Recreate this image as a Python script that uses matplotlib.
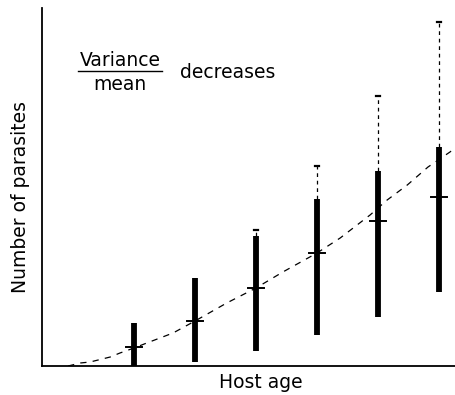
import matplotlib
matplotlib.use("Agg")
import matplotlib.pyplot as plt

# Data (arbitrary units)
ages = [1, 2, 3, 4, 5, 6]
range_low = [0.0, 0.4, 1.5, 3.1, 4.9, 7.4]
range_high = [4.3, 8.8, 13.0, 16.7, 19.5, 21.9]
means = [1.9, 4.5, 7.8, 11.3, 14.5, 16.9]
tail_high = [None, None, 13.6, 20.0, 27.0, 34.4]

curve_x = [-0.08, 0.12, 0.28, 0.61, 0.77, 1.0, 1.21, 1.64, 2.0, 2.52, 3.0,
           3.44, 4.0, 4.38, 4.87, 5.15, 5.48, 5.82, 6.18, 6.26]
curve_y = [0.0, 0.3, 0.4, 0.9, 1.3, 1.8, 2.3, 3.3, 4.5, 6.3, 7.8,
           9.4, 11.3, 12.8, 15.1, 16.6, 18.1, 19.9, 21.4, 21.8]

W, H = 455, 395
fig = plt.figure(figsize=(W / 100, H / 100), dpi=100)
ax = fig.add_axes([42 / W, 1 - 366 / H, (455 - 42) / W, (366 - 8) / H])
ax.set_xlim(1 - 92 / 61, 1 + 321 / 61)
ax.set_ylim(0, 35.8)

for s in ["top", "right"]:
    ax.spines[s].set_visible(False)
for s in ["left", "bottom"]:
    ax.spines[s].set_linewidth(1.3)
    ax.spines[s].set_color("black")
ax.set_xticks([])
ax.set_yticks([])

# dashed curve
ax.plot(curve_x, curve_y, color="black", lw=0.9, dashes=(5, 5), zorder=2)

for a, lo, hi, m, t in zip(ages, range_low, range_high, means, tail_high):
    ax.plot([a, a], [lo, hi], color="black", lw=4.2, solid_capstyle="butt", zorder=3)
    ax.plot([a - 0.13, a + 0.13], [m, m], color="black", lw=1.4, zorder=4)
    if t is not None:
        ax.plot([a, a], [hi, t], color="black", lw=0.9, dashes=(3, 3), zorder=3)
        ax.plot([a - 0.03, a + 0.03], [t, t], color="black", lw=1.6, zorder=3)

fs = 13.5
fig.text(261 / W, 1 - 382 / H, "Host age", ha="center", va="center", fontsize=fs)
fig.text(21 / W, 1 - 197 / H, "Number of parasites", ha="center", va="center",
         rotation=90, fontsize=fs)

fig.text(120 / W, 1 - 61 / H, "Variance", ha="center", va="center", fontsize=fs)
fig.text(120 / W, 1 - 84 / H, "mean", ha="center", va="center", fontsize=fs)
fig.add_artist(plt.Line2D([78 / W, 162 / W], [1 - 71 / H, 1 - 71 / H],
                          color="black", lw=1.0, transform=fig.transFigure))
fig.text(180 / W, 1 - 72 / H, "decreases", ha="left", va="center", fontsize=fs)

fig.savefig("out.png", dpi=100)
